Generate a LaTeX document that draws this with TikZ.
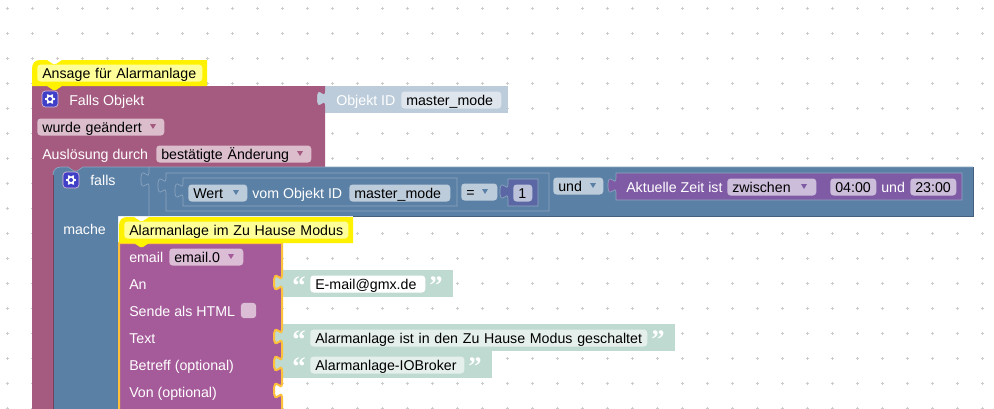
\documentclass[tikz,border=0pt]{standalone}
\usepackage{fontspec}
\setmainfont{Liberation Sans}
\newfontfamily\quotefont{Liberation Serif}
\definecolor{maroonblock}{HTML}{A55B80}
\definecolor{maroonfield}{HTML}{DBBDCC}
\definecolor{blueblock}{HTML}{5B80A5}
\definecolor{blueedge}{HTML}{8CA6C0}
\definecolor{bluefield}{HTML}{BDCCDB}
\definecolor{palefield}{HTML}{DEE5ED}
\definecolor{mailblock}{HTML}{A55B99}
\definecolor{mailfield}{HTML}{DBBDD6}
\definecolor{mailedge}{HTML}{FFC03A}
\definecolor{numblock}{HTML}{5B67A5}
\definecolor{numfield}{HTML}{BDC2DB}
\definecolor{timeblock}{HTML}{805BA5}
\definecolor{timefield}{HTML}{CCBDDB}
\definecolor{textblock}{HTML}{BFDAD0}
\definecolor{textfield}{HTML}{E5F0EC}
\definecolor{notefield}{HTML}{FFFF99}
\definecolor{griddot}{HTML}{CCCCCC}
\definecolor{iconblue}{HTML}{3F3FC8}
\tikzset{
  x=0.75pt,y=-0.75pt,
  blocktext/.style={anchor=west,inner sep=0pt,text=white,text height=8.5pt,text depth=1pt,font=\fontsize{10.65}{12}\selectfont},
  fieldbox/.style={anchor=west,inner xsep=3.75pt,inner ysep=0pt,minimum height=12.75pt,rounded corners=2.5pt,align=left,text=black,text height=8.5pt,text depth=1pt,font=\fontsize{10.65}{12}\selectfont},
  quotemark/.style={anchor=base,inner sep=0pt,text=white,font=\quotefont\bfseries\fontsize{20}{20}\selectfont},
  gearicon/.pic={
    \fill[draw=mailfield,fill=iconblue,rounded corners=2.5pt,line width=0.5pt] (-8,-8) rectangle (8,8);
    \foreach \a in {0,60,...,300}
      \draw[white,line width=1.2pt] (\a:2.5) -- (\a:5.2);
    \fill[white] (0,0) circle[radius=2.9pt];
    \fill[iconblue] (0,0) circle[radius=1.5pt];
  }
}
% edge with a puzzle notch going down
\newcommand{\notchdown}[2]{-- (#1,#2) .. controls (#1,#2+10) and (#1-8,#2-8) .. (#1-8,#2+7.5) .. controls (#1-8,#2+23) and (#1,#2+5) .. (#1,#2+15)}
\newcommand{\hatdip}[2]{-- (#1,#2) -- (#1+6,#2+4) -- (#1+9,#2+4) -- (#1+15,#2)}
\newcommand{\fieldnode}[6]{%
  \pgfmathsetlengthmacro{\fieldw}{((#4)-(#3)-10)*0.75}
  \node[fieldbox,fill=#1,text width=\fieldw] (#2) at (#3,#5) {\mbox{#6}};}
\newcommand{\ddarrow}[3]{\fill[#3] (#1-3,#2-2) -- (#1+3,#2-2) -- (#1,#2+3) -- cycle;}
\newcommand{\notebox}[5]{%
  \fill[yellow] (#2,#4+9) .. controls (#2,#4+3) and (#2+3,#4) .. (#2+8,#4) \hatdip{#2+15}{#4} -- (#3,#4) -- (#3,#4+26) -- (#2+30,#4+26) -- (#2+24,#4+30) -- (#2+21,#4+30) -- (#2+15,#4+26) -- (#2,#4+26) -- cycle;
  \fieldnode{notefield}{#1}{#2+5}{#3-5}{#4+13}{#5}}
\begin{document}
\begin{tikzpicture}
    \useasboundingbox (0,0) rectangle (994,408);
    \fill[white] (0,0) rectangle (994,408);
    \foreach \dx in {7,32,...,982}
      \foreach \dy in {8,33,...,408}
        \draw[griddot,line width=0.5pt] (\dx-1.5,\dy) -- (\dx+1.5,\dy) (\dx,\dy-1.5) -- (\dx,\dy+1.5);

    % value blocks behind the notches
    \fill[bluefield] (315,86) rectangle (508,113);
    \node[blocktext] (objektlabel) at (336,100) {Objekt ID};
    \fieldnode{palefield}{objektid}{401}{501}{100}{master\_mode}
    \fill[textblock] (270,270) rectangle (453,297);
    \fill[textblock] (270,324) rectangle (675,351);
    \fill[textblock] (270,351) rectangle (492,378);

    % trigger block
    \fill[maroonblock] (32,86) -- (325,86) \notchdown{325}{91} -- (325,167) -- (100,167) -- (100,175) -- (60,175) -- (60,410) -- (32,410) -- cycle;
    \notebox{ansage}{32}{207}{60}{Ansage für Alarmanlage}
    \pic at (50,99) {gearicon};
    \node[blocktext] (fallsobjekt) at (69,100) {Falls Objekt};
    \fieldnode{maroonfield}{geaendert}{37}{164}{127}{wurde geändert}
    \ddarrow{153}{126}{maroonblock}
    \node[blocktext] (ausloesung) at (42,154) {Auslösung durch};
    \fieldnode{maroonfield}{bestaetigt}{156}{311}{154}{bestätigte Änderung}
    \ddarrow{300}{153}{maroonblock}

    % if block
    \fill[blueblock] (53,175) .. controls (53,170) and (56,167) .. (61,167) \hatdip{68}{167} -- (973,167) -- (973,216) -- (118,216) -- (118,410) -- (53,410) -- cycle;
    \draw[maroonblock!70!black,line width=0.5pt] (53,175) -- (53,410);
    \draw[blueedge,line width=0.5pt] (53,175) .. controls (53,170) and (56,167) .. (61,167) \hatdip{68}{167} -- (973,167);
    \draw[blueblock!75!black,line width=0.5pt] (973,167) -- (973,216) -- (353,216);
    \pic at (71,180) {gearicon};
    \node[blocktext] (falls) at (90,180) {falls};
    \node[blocktext] (mache) at (63,229) {mache};
    \draw[blueedge,line width=0.5pt] (149,167) \notchdown{149}{172} -- (149,216);

    % condition
    \draw[blueedge,fill=blueblock,line width=0.5pt] (166,173) \notchdown{166}{178} -- (166,211) -- (549,211) -- (549,173) -- cycle;
    \draw[blueedge,fill=blueblock,line width=0.5pt] (183,178) \notchdown{183}{183} -- (183,206) -- (457,206) -- (457,178) -- cycle;
    \fieldnode{bluefield}{wert}{188}{247}{193}{Wert}
    \ddarrow{236}{192}{blueblock}
    \node[blocktext] (vomobjekt) at (252,193) {vom Objekt ID};
    \fieldnode{bluefield}{masterid}{349}{450}{193}{master\_mode}
    \fieldnode{bluefield}{gleich}{461}{497}{192}{=}
    \ddarrow{485}{191}{blueblock}
    \draw[blueedge,fill=numblock,line width=0.5pt] (508,179) \notchdown{508}{184} -- (508,206) -- (538,206) -- (538,179) -- cycle;
    \fieldnode{numfield}{eins}{513}{532}{193}{1}
    \fieldnode{bluefield}{undop}{553}{603}{186}{und}
    \ddarrow{593}{185}{blueblock}

    % time block
    \draw[blueedge,fill=timeblock,line width=0.5pt] (616,173) \notchdown{616}{178} -- (616,200) -- (962,200) -- (962,173) -- cycle;
    \node[blocktext] (aktuellezeit) at (626,187) {Aktuelle Zeit ist};
    \fieldnode{timefield}{zwischen}{727}{816}{187}{zwischen}
    \ddarrow{804}{186}{timeblock}
    \fieldnode{timefield}{von}{830}{876}{187}{04:00}
    \node[blocktext] (undzeit) at (881,187) {und};
    \fieldnode{timefield}{bis}{910}{956}{187}{23:00}

    % email block
    \draw[mailedge,fill=mailblock,line width=1.5pt] (119,243) -- (282,243) \notchdown{282}{275} \notchdown{282}{329} \notchdown{282}{356} \notchdown{282}{383} -- (282,412) -- (119,412) -- cycle;
    \notebox{zuhause}{119}{353}{217}{Alarmanlage im Zu Hause Modus}
    \node[blocktext] (email) at (129,257) {email};
    \fieldnode{mailfield}{emailnull}{169}{243}{257}{email.0}
    \ddarrow{231}{256}{mailblock}
    \node[blocktext] (an) at (129,284) {An};
    \node[blocktext] (html) at (129,311) {Sende als HTML};
    \node[fill=mailfield,inner sep=0pt,minimum size=11.5pt,rounded corners=2.5pt] (htmlbox) at (248.5,310.5) {};
    \node[blocktext] (text) at (129,338) {Text};
    \node[blocktext] (betreff) at (129,365) {Betreff (optional)};
    \node[blocktext] (vonopt) at (129,392) {Von (optional)};

    % text values
    \node[quotemark] (q1) at (299,294) {“};
    \fieldnode{white}{adresse}{310}{425}{284}{E-mail@gmx.de}
    \node[quotemark] (q2) at (436,294) {”};
    \node[quotemark] (q3) at (299,348) {“};
    \fieldnode{textfield}{nachricht}{310}{647}{338}{Alarmanlage ist in den Zu Hause Modus geschaltet}
    \node[quotemark] (q4) at (658,348) {”};
    \node[quotemark] (q5) at (299,375) {“};
    \fieldnode{textfield}{betrefftext}{310}{464}{365}{Alarmanlage-IOBroker}
    \node[quotemark] (q6) at (475,375) {”};
\end{tikzpicture}
\end{document}
